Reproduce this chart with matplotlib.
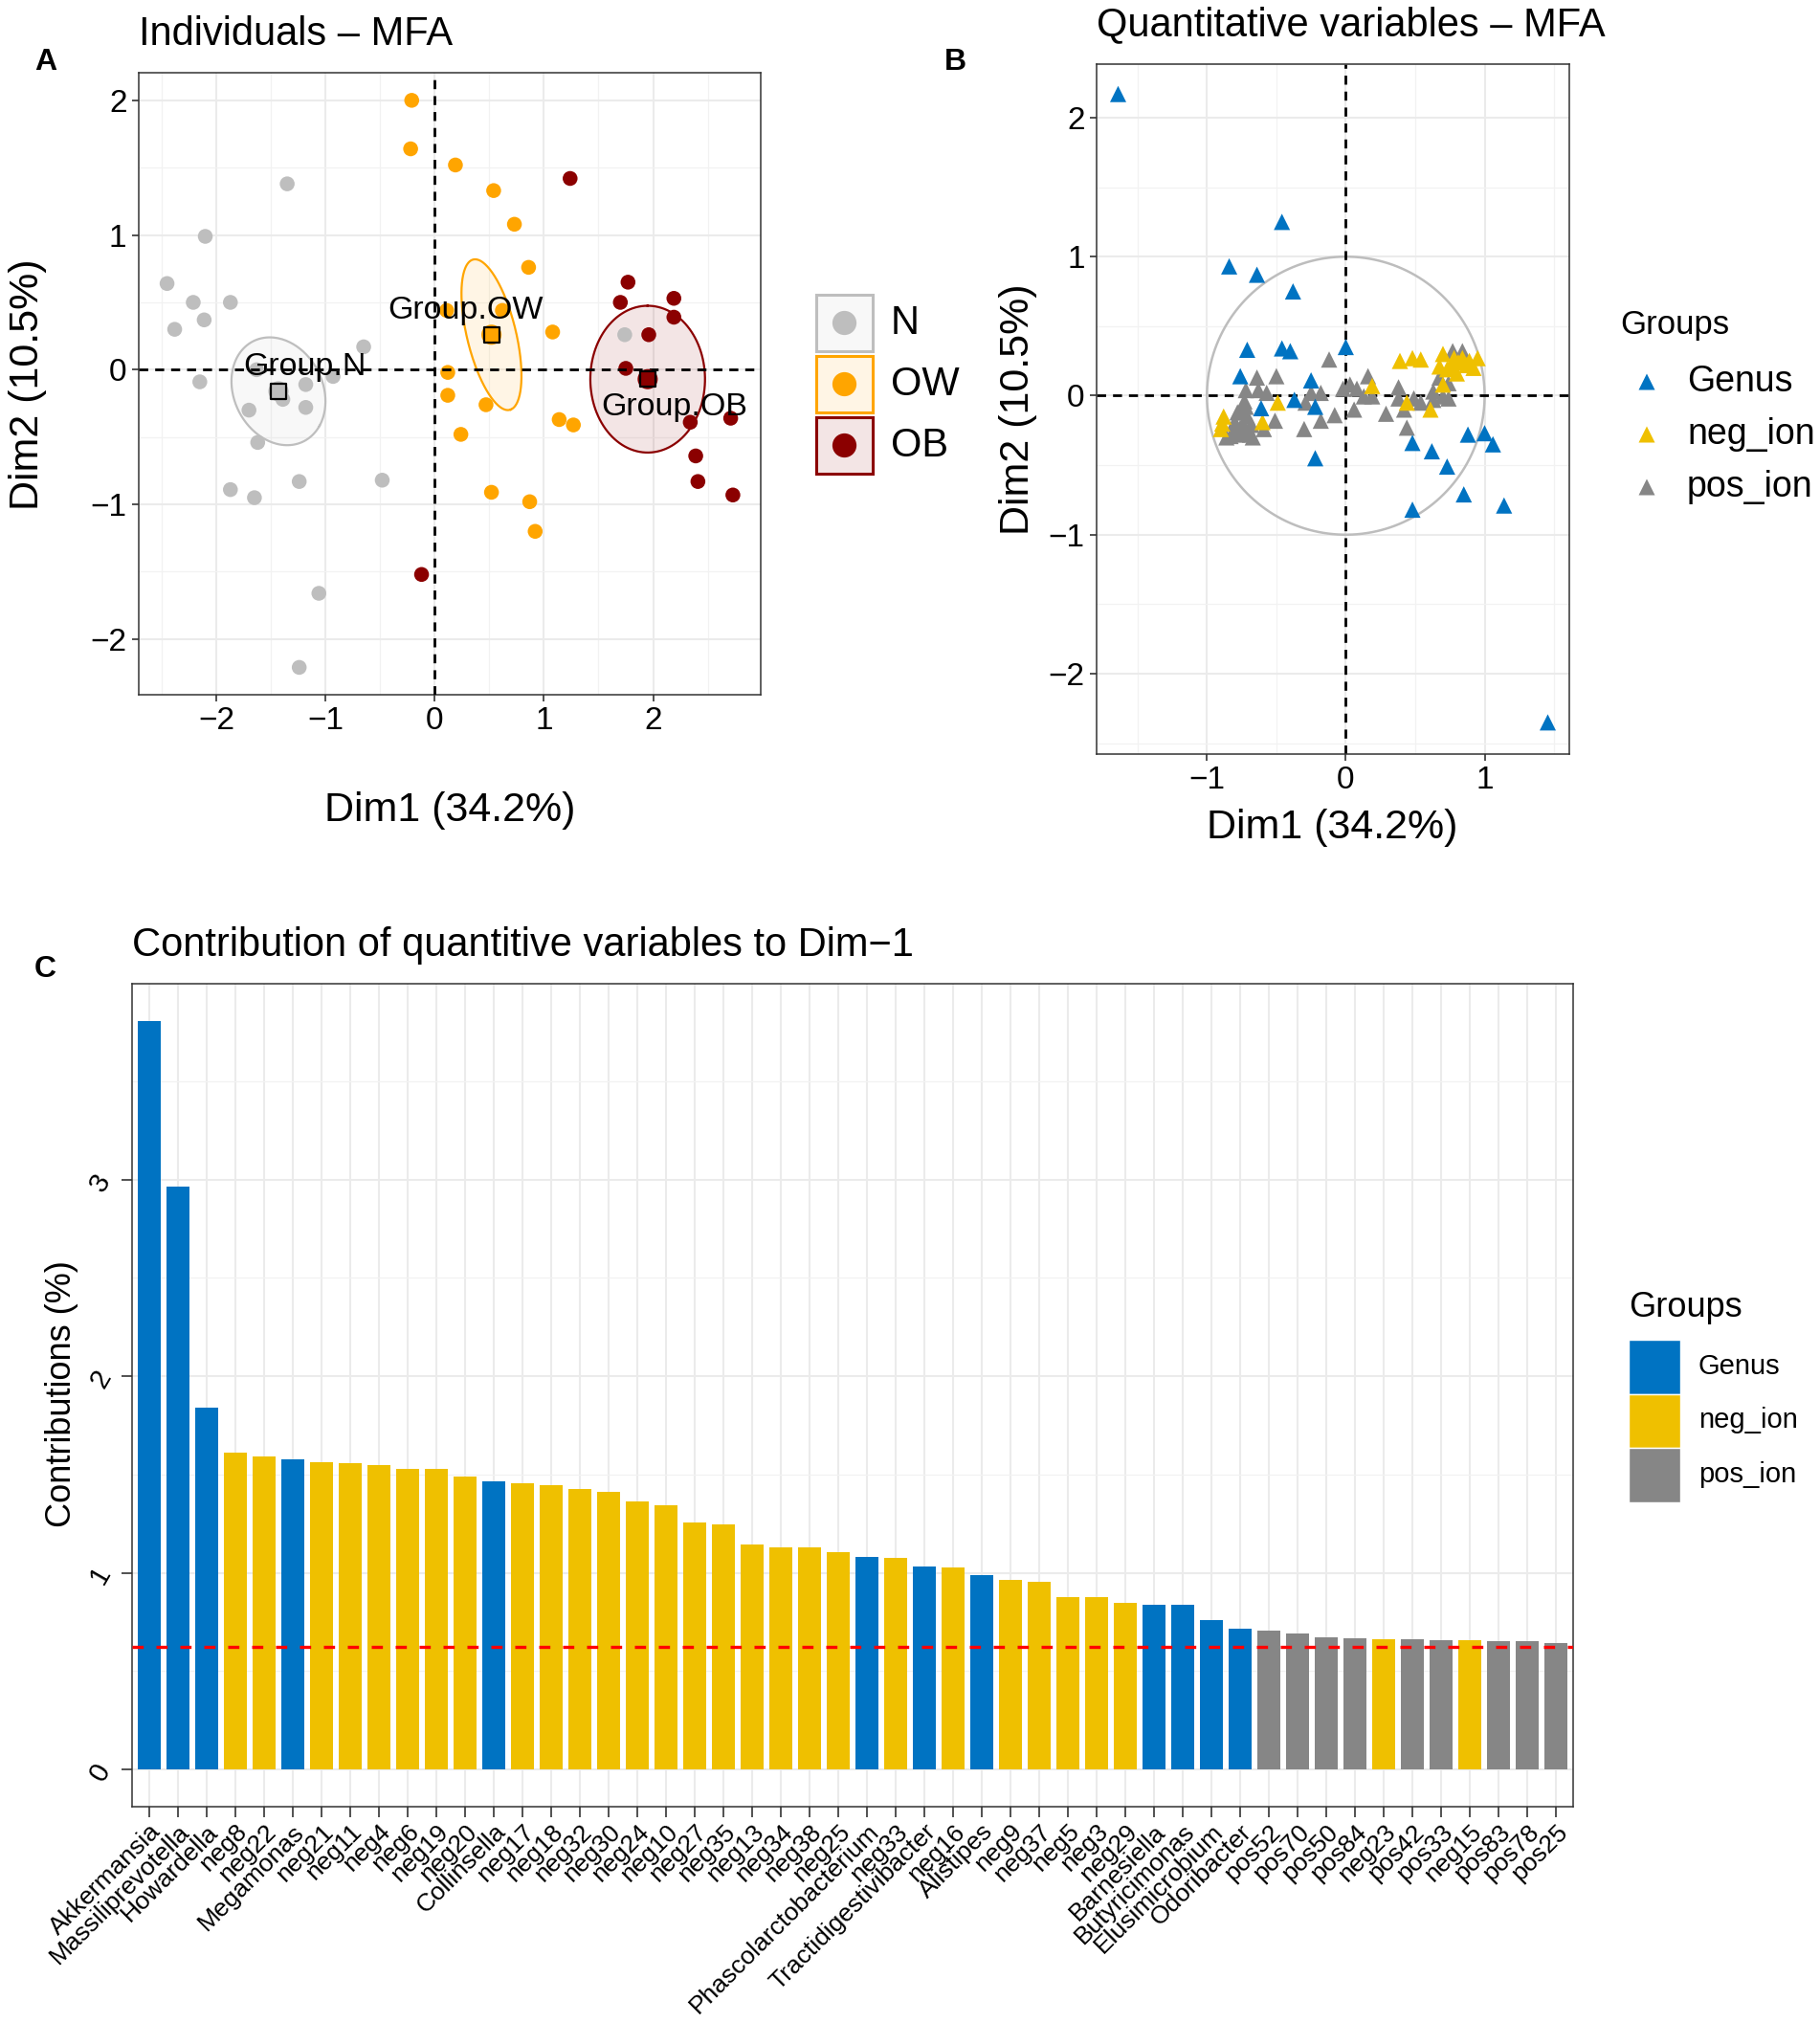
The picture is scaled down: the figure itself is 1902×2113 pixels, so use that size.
import numpy as np
import matplotlib.pyplot as plt
from matplotlib.patches import Rectangle
from matplotlib.ticker import MultipleLocator

plt.rcParams['font.family'] = ['Liberation Sans', 'DejaVu Sans']

W, H = 1902, 2113

# ---------------- Panel A: individuals ----------------
n_x = [-2.45, -2.10, -1.35, -2.21, -1.87, -2.38, -2.11, -0.65, -2.15, -0.93, -1.18, -1.70,
       -1.18, -1.39, -1.62, -1.63, -1.87, -1.65, -1.24, -0.48, -1.06, -1.24, 1.74]
n_y = [0.64, 0.99, 1.38, 0.50, 0.50, 0.30, 0.37, 0.17, -0.09, -0.05, -0.11, -0.30,
       -0.28, -0.22, -0.54, 0.00, -0.89, -0.95, -0.83, -0.82, -1.66, -2.21, 0.26]
ow_x = [-0.21, -0.22, 0.19, 0.54, 0.73, 0.86, 0.11, 0.62, 1.08, 0.52, 0.12, 0.12, 0.47,
        0.24, 1.14, 1.27, 0.52, 0.87, 0.92]
ow_y = [2.00, 1.64, 1.52, 1.33, 1.08, 0.76, 0.44, 0.44, 0.28, 0.25, -0.02, -0.19, -0.26,
        -0.48, -0.37, -0.41, -0.91, -0.98, -1.20]
ob_x = [1.24, 1.77, 1.70, 2.19, 2.19, 1.96, 1.75, 1.94, 2.34, 2.71, 2.39, 2.41, 2.73, -0.12]
ob_y = [1.42, 0.65, 0.50, 0.53, 0.39, 0.26, 0.01, -0.07, -0.39, -0.36, -0.64, -0.83, -0.93, -1.52]

group_names = ['N', 'OW', 'OB']
group_colors = ['#BEBEBE', '#FFA500', '#8B0000']
center_x = [-1.43, 0.52, 1.95]
center_y = [-0.16, 0.26, -0.07]
# confidence ellipses: semi-axes and angle (deg)
ell_a = [0.455, 0.583, 0.545]
ell_b = [0.372, 0.221, 0.525]
ell_theta = [-34.3, -72.4, 90.0]
label_x = [-1.19, 0.28, 2.19]
label_y = [0.02, 0.44, -0.28]

# ---------------- Panel B: variables ----------------
genus_x = [-1.64, -0.46, -0.84, -0.64, -0.38, -0.71, -0.46, -0.40, 0.00, -0.76, -0.25, -0.37,
           -0.22, -0.61, -0.22, 0.88, 1.00, 1.06, 0.48, 0.62, 0.73, 0.85, 1.14, 0.48, 1.455]
genus_y = [2.17, 1.25, 0.93, 0.87, 0.75, 0.33, 0.34, 0.32, 0.35, 0.14, 0.11, -0.03,
           -0.08, -0.09, -0.45, -0.28, -0.27, -0.35, -0.34, -0.40, -0.51, -0.71, -0.79, -0.82, -2.35]
neg_x = [-0.88, -0.89, -0.90, -0.49, -0.60, 0.19, 0.39, 0.48, 0.54, 0.44, 0.61, 0.70, 0.78,
         0.84, 0.95, 0.675, 0.73, 0.80, 0.87, 0.70, 0.76, 0.89, 0.92, 0.81]
neg_y = [-0.15, -0.20, -0.24, -0.05, -0.19, 0.07, 0.25, 0.27, 0.26, -0.05, -0.10, 0.30, 0.27,
         0.27, 0.27, 0.21, 0.19, 0.16, 0.22, 0.08, 0.22, 0.25, 0.20, 0.24]
pos_x = [-0.12, -0.50, -0.64, -0.72, -0.63, -0.57, -0.73, -0.75, -0.80, -0.83, -0.78, -0.71,
         -0.68, -0.74, -0.59, -0.51, -0.30, -0.18, -0.08, 0.06, -0.29, -0.18, -0.25, 0.03,
         0.08, 0.16, 0.13, 0.19, 0.29, 0.38, 0.38, 0.44, 0.42, 0.49, 0.54, 0.63, 0.70, 0.74,
         0.63, 0.77, 0.84, 0.675, 0.74, -0.02, -0.78, -0.71, -0.81, -0.67, -0.86, -0.72, -0.76, -0.69]
pos_y = [0.26, 0.14, 0.13, 0.04, 0.04, 0.02, -0.04, -0.12, -0.19, -0.29, -0.28, -0.26,
         -0.21, -0.21, -0.24, -0.18, -0.24, -0.18, -0.14, -0.10, -0.05, 0.02, 0.02, 0.08,
         0.05, 0.14, -0.005, -0.005, -0.13, 0.06, -0.02, -0.23, -0.10, -0.02, -0.05, 0.03, -0.005, -0.02,
         -0.03, 0.32, 0.32, 0.13, 0.09, 0.05, -0.12, -0.15, -0.25, -0.30, -0.30, -0.08, -0.23, -0.28]

var_groups = ['Genus', 'neg_ion', 'pos_ion']
jco = {'Genus': '#0073C2', 'neg_ion': '#EFC000', 'pos_ion': '#868686'}

# ---------------- Panel C: contributions ----------------
contrib_names = ['Akkermansia', 'Massiliprevotella', 'Howardella', 'neg8', 'neg22', 'Megamonas',
                 'neg21', 'neg11', 'neg4', 'neg6', 'neg19', 'neg20', 'Collinsella', 'neg17',
                 'neg18', 'neg32', 'neg30', 'neg24', 'neg10', 'neg27', 'neg35', 'neg13', 'neg34',
                 'neg38', 'neg25', 'Phascolarctobacterium', 'neg33', 'Tractidigestivibacter',
                 'neg16', 'Alistipes', 'neg9', 'neg37', 'neg5', 'neg3', 'neg29', 'Barnesiella',
                 'Butyricimonas', 'Elusimicrobium', 'Odoribacter', 'pos52', 'pos70', 'pos50',
                 'pos84', 'neg23', 'pos42', 'pos33', 'neg15', 'pos83', 'pos78', 'pos25']
contrib_vals = [3.806, 2.966, 1.838, 1.613, 1.593, 1.575, 1.561, 1.556, 1.550, 1.530, 1.527,
                1.487, 1.467, 1.453, 1.447, 1.425, 1.410, 1.365, 1.345, 1.256, 1.248, 1.145,
                1.131, 1.128, 1.105, 1.080, 1.077, 1.034, 1.028, 0.989, 0.966, 0.954, 0.875,
                0.875, 0.846, 0.835, 0.835, 0.761, 0.715, 0.707, 0.692, 0.670, 0.667, 0.661,
                0.661, 0.658, 0.658, 0.652, 0.650, 0.644]
contrib_groups = ['Genus'] * 3 + ['neg_ion'] * 2 + ['Genus'] + ['neg_ion'] * 6 + ['Genus'] + \
                 ['neg_ion'] * 12 + ['Genus', 'neg_ion', 'Genus', 'neg_ion', 'Genus'] + \
                 ['neg_ion'] * 5 + ['Genus'] * 4 + ['pos_ion'] * 4 + ['neg_ion'] + \
                 ['pos_ion'] * 2 + ['neg_ion'] + ['pos_ion'] * 3
expected_contrib = 0.625


def fig_rect(left, top, right, bottom):
    return [left / W, 1 - bottom / H, (right - left) / W, (bottom - top) / H]


def style_axes(ax, tick_size):
    ax.set_axisbelow(True)
    ax.grid(which='major', color='#EBEBEB', lw=1.5)
    ax.grid(which='minor', color='#F2F2F2', lw=0.9)
    for s in ax.spines.values():
        s.set_color('#333333')
        s.set_linewidth(1.1)
    ax.tick_params(which='major', length=5, width=1.2, color='#333333',
                   labelsize=tick_size, labelcolor='black', pad=4)
    ax.tick_params(which='minor', length=0)


def ellipse_xy(cx, cy, a, b, theta):
    t = np.linspace(0, 2 * np.pi, 240)
    th = np.deg2rad(theta)
    x = cx + a * np.cos(t) * np.cos(th) - b * np.sin(t) * np.sin(th)
    y = cy + a * np.cos(t) * np.sin(th) + b * np.sin(t) * np.cos(th)
    return x, y


fig = plt.figure(figsize=(W / 100, H / 100), dpi=100)

# overlay in pixel coordinates for titles, labels and legends
ov = fig.add_axes([0, 0, 1, 1], zorder=5)
ov.set_xlim(0, W)
ov.set_ylim(H, 0)
ov.axis('off')
ov.patch.set_alpha(0)

dash = (0, (3.4, 2.6))

# ---------------- A ----------------
axA = fig.add_axes(fig_rect(145, 76, 795, 726))
style_axes(axA, 24)
axA.set_xlim(-2.709, 2.985)
axA.set_ylim(-2.413, 2.205)
axA.xaxis.set_major_locator(MultipleLocator(1))
axA.xaxis.set_minor_locator(MultipleLocator(0.5))
axA.yaxis.set_major_locator(MultipleLocator(1))
axA.yaxis.set_minor_locator(MultipleLocator(0.5))

for i, col in enumerate(group_colors):
    ex, ey = ellipse_xy(center_x[i], center_y[i], ell_a[i], ell_b[i], ell_theta[i])
    axA.fill(ex, ey, color=col, alpha=0.1, lw=0, zorder=2)
    axA.plot(ex, ey, color=col, lw=1.6, zorder=2)

for xs, ys, col in zip([n_x, ow_x, ob_x], [n_y, ow_y, ob_y], group_colors):
    axA.scatter(xs, ys, s=125, c=col, edgecolors='none', zorder=3)

axA.axhline(0, color='black', lw=2, ls=dash, zorder=4)
axA.axvline(0, color='black', lw=2, ls=dash, zorder=4)

for i, col in enumerate(group_colors):
    axA.scatter(center_x[i], center_y[i], s=230, c=col, edgecolors='none', zorder=5)
    axA.scatter(center_x[i], center_y[i], s=135, marker='s', c=col,
                edgecolors='black', linewidths=1.6, zorder=6)
    axA.text(label_x[i], label_y[i], 'Group.' + group_names[i], fontsize=24.5,
             ha='center', va='center', zorder=7)

ov.text(145, 36, 'Individuals \u2013 MFA', fontsize=30, ha='left', va='center')
ov.text(48, 65, 'A', fontsize=23, fontweight='bold', ha='center', va='center')
ov.text(470, 847, 'Dim1 (34.2%)', fontsize=31, ha='center', va='center')
ov.text(29, 402, 'Dim2 (10.5%)', fontsize=31, ha='center', va='center', rotation=90)

for i, (name, col) in enumerate(zip(group_names, group_colors)):
    y0 = 308 + i * 64
    ov.add_patch(Rectangle((853, y0), 59, 59, facecolor=col, alpha=0.1, lw=0))
    ov.add_patch(Rectangle((853, y0), 59, 59, facecolor='none', edgecolor=col, lw=2.2))
    ov.scatter(882.5, y0 + 29.5, s=330, c=col, edgecolors='none')
    ov.text(931, y0 + 30, name, fontsize=30, ha='left', va='center')

# ---------------- B ----------------
axB = fig.add_axes(fig_rect(1146, 67, 1640, 788))
style_axes(axB, 24)
axB.set_xlim(-1.795, 1.61)
axB.set_ylim(-2.578, 2.385)
axB.xaxis.set_major_locator(MultipleLocator(1))
axB.xaxis.set_minor_locator(MultipleLocator(0.5))
axB.yaxis.set_major_locator(MultipleLocator(1))
axB.yaxis.set_minor_locator(MultipleLocator(0.5))

t = np.linspace(0, 2 * np.pi, 360)
axB.plot(np.cos(t), np.sin(t), color='#BDBDBD', lw=1.8, zorder=2)
axB.axhline(0, color='black', lw=2, ls=dash, zorder=2)
axB.axvline(0, color='black', lw=2, ls=dash, zorder=2)

for xs, ys, g in [(pos_x, pos_y, 'pos_ion'), (neg_x, neg_y, 'neg_ion'), (genus_x, genus_y, 'Genus')]:
    axB.scatter(xs, ys, s=150, marker='^', c=jco[g], edgecolors='none', zorder=3)

ov.text(1146, 26, 'Quantitative variables \u2013 MFA', fontsize=30, ha='left', va='center')
ov.text(998, 65, 'B', fontsize=23, fontweight='bold', ha='center', va='center')
ov.text(1392, 865, 'Dim1 (34.2%)', fontsize=31, ha='center', va='center')
ov.text(1064, 428, 'Dim2 (10.5%)', fontsize=31, ha='center', va='center', rotation=90)

ov.text(1693, 340, 'Groups', fontsize=25, ha='left', va='center')
for i, g in enumerate(var_groups):
    yk = 399 + i * 55
    ov.scatter(1721, yk, s=150, marker='^', c=jco[g], edgecolors='none')
    ov.text(1763, yk, g, fontsize=27, ha='left', va='center')

# ---------------- C ----------------
axC = fig.add_axes(fig_rect(138, 1028, 1644, 1888))
style_axes(axC, 20)
axC.grid(which='minor', axis='x', visible=False)
xpos = np.arange(1, len(contrib_vals) + 1)
axC.bar(xpos, contrib_vals, width=0.8, color=[jco[g] for g in contrib_groups], zorder=2)
axC.axhline(expected_contrib, color='red', lw=2.4, ls=(0, (3.5, 4)), zorder=3)
axC.set_xlim(0.4, len(contrib_vals) + 0.6)
axC.set_ylim(-0.19, 3.996)
axC.set_xticks(xpos)
axC.set_xticklabels(contrib_names, rotation=45, ha='right', va='top',
                    rotation_mode='anchor', fontsize=19)
axC.yaxis.set_major_locator(MultipleLocator(1))
axC.yaxis.set_minor_locator(MultipleLocator(0.5))
axC.tick_params(axis='both', which='major', length=8)
axC.tick_params(axis='x', pad=2)
for lab in axC.get_yticklabels():
    lab.set_rotation(60)
    lab.set_fontsize(21)

ov.text(138, 988, 'Contribution of quantitive variables to Dim\u22121', fontsize=30,
        ha='left', va='center')
ov.text(47, 1013, 'C', fontsize=23, fontweight='bold', ha='center', va='center')
ov.text(65, 1457, 'Contributions (%)', fontsize=26, ha='center', va='center', rotation=90)

ov.text(1702, 1367, 'Groups', fontsize=26, ha='left', va='center')
for i, g in enumerate(var_groups):
    y0 = 1400 + i * 56.5
    ov.add_patch(Rectangle((1702, y0), 54, 56.5, facecolor=jco[g], edgecolor='white', lw=1))
    ov.text(1775, y0 + 28, g, fontsize=21, ha='left', va='center')

fig.savefig('out.png', dpi=100, facecolor='white')
